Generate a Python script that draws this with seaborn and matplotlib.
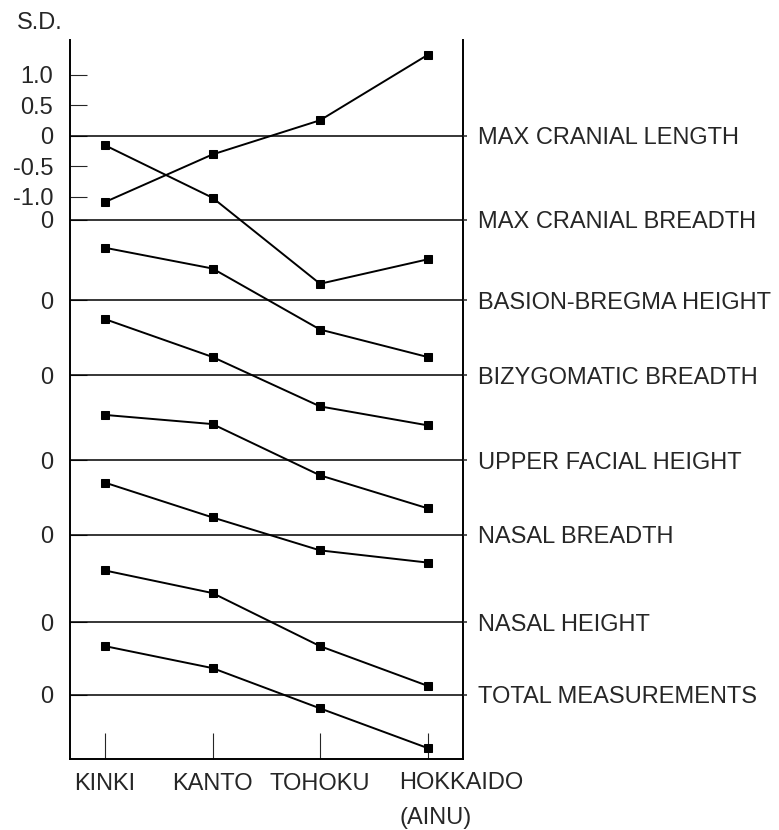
import pandas as pd
import matplotlib
matplotlib.use("Agg")
import matplotlib.pyplot as plt
import matplotlib.transforms as mtransforms
import seaborn as sns

# Regions along the x axis
regions = ["KINKI", "KANTO", "TOHOKU", "HOKKAIDO"]

# Cranial measurements, one profile each (values in S.D. units)
measurements = [
    "MAX CRANIAL LENGTH",
    "MAX CRANIAL BREADTH",
    "BASION-BREGMA HEIGHT",
    "BIZYGOMATIC BREADTH",
    "UPPER FACIAL HEIGHT",
    "NASAL BREADTH",
    "NASAL HEIGHT",
    "TOTAL MEASUREMENTS",
]

max_cranial_length = [-1.09, -0.31, 0.25, 1.32]
max_cranial_breadth = [1.22, 0.36, -1.05, -0.65]
basion_bregma_height = [0.86, 0.52, -0.48, -0.93]
bizygomatic_breadth = [0.92, 0.30, -0.51, -0.82]
upper_facial_height = [0.74, 0.59, -0.25, -0.79]
nasal_breadth = [0.85, 0.28, -0.26, -0.46]
nasal_height = [0.85, 0.48, -0.39, -1.04]
total_measurements = [0.80, 0.44, -0.22, -0.87]

top_ticks = [1.0, 0.5, 0, -0.5, -1.0]
top_tick_labels = ["1.0", "0.5", "0", "-0.5", "-1.0"]

# Layout: where each profile's zero line sits on the shared axis (S.D. units)
row_base = [0, -1.38, -2.70, -3.93, -5.32, -6.54, -7.98, -9.17]


def main():
    series = [
        max_cranial_length,
        max_cranial_breadth,
        basion_bregma_height,
        bizygomatic_breadth,
        upper_facial_height,
        nasal_breadth,
        nasal_height,
        total_measurements,
    ]

    # Long-form table, each profile shifted onto its own zero line
    rows = []
    for name, base, vals in zip(measurements, row_base, series):
        for i, v in enumerate(vals):
            rows.append({"measure": name, "x": i, "sd": v, "y": base + v})
    df = pd.DataFrame(rows)

    sns.set_style("white")
    plt.rcParams["font.family"] = ["Liberation Sans", "DejaVu Sans"]
    plt.rcParams["font.size"] = 17

    fig = plt.figure(figsize=(7.79, 8.30), dpi=100)
    ax = fig.add_axes([70 / 779, 1 - 759 / 830, 393 / 779, 719 / 830])

    for base in row_base:
        ax.axhline(base, color="black", lw=1.1, zorder=1)

    sns.lineplot(
        data=df, x="x", y="y", units="measure", estimator=None, sort=False,
        color="black", lw=1.4, marker="s", markersize=6,
        markeredgecolor="black", ax=ax, zorder=3,
    )

    ax.set_xlim(-0.326, 3.33)
    ax.set_ylim(-10.22, 1.566)

    # Left axis: S.D. scale for the top profile, zero marks for the others
    ax.set_yticks(top_ticks + row_base[1:])
    ax.set_yticklabels(top_tick_labels + ["0"] * (len(row_base) - 1))
    ax.tick_params(axis="y", direction="in", length=12.5, width=0.8, pad=12,
                   labelsize=17, left=True)

    # Bottom axis: regions
    ax.set_xticks(range(len(regions)))
    ax.set_xticklabels(regions[:-1] + [""])
    ax.tick_params(axis="x", direction="in", length=19, width=0.8, pad=10,
                   labelsize=17, bottom=True)
    trans = mtransforms.blended_transform_factory(ax.transData, ax.transAxes)
    trans = mtransforms.offset_copy(trans, fig=fig, x=-28, y=-13, units="dots")
    ax.text(3, 0, "HOKKAIDO\n(AINU)", transform=trans, ha="left", va="top",
            multialignment="left", linespacing=1.75, fontsize=17)

    ax.set_xlabel("")
    ax.set_ylabel("")
    ax.spines["top"].set_visible(False)
    for side in ["left", "right", "bottom"]:
        ax.spines[side].set_visible(True)
        ax.spines[side].set_color("black")
        ax.spines[side].set_linewidth(1.4)

    # Right side: measurement names at their zero lines
    ax2 = ax.twinx()
    ax2.set_ylim(ax.get_ylim())
    ax2.set_yticks(row_base)
    ax2.set_yticklabels(measurements)
    ax2.tick_params(axis="y", direction="out", length=3, width=1.1, pad=8,
                    labelsize=17, right=True)
    for side in ax2.spines:
        ax2.spines[side].set_visible(False)

    fig.text(17 / 779, 1 - 23 / 830, "S.D.", ha="left", va="center", fontsize=17)

    fig.savefig("out.png", dpi=100)
    plt.close(fig)


if __name__ == "__main__":
    main()
